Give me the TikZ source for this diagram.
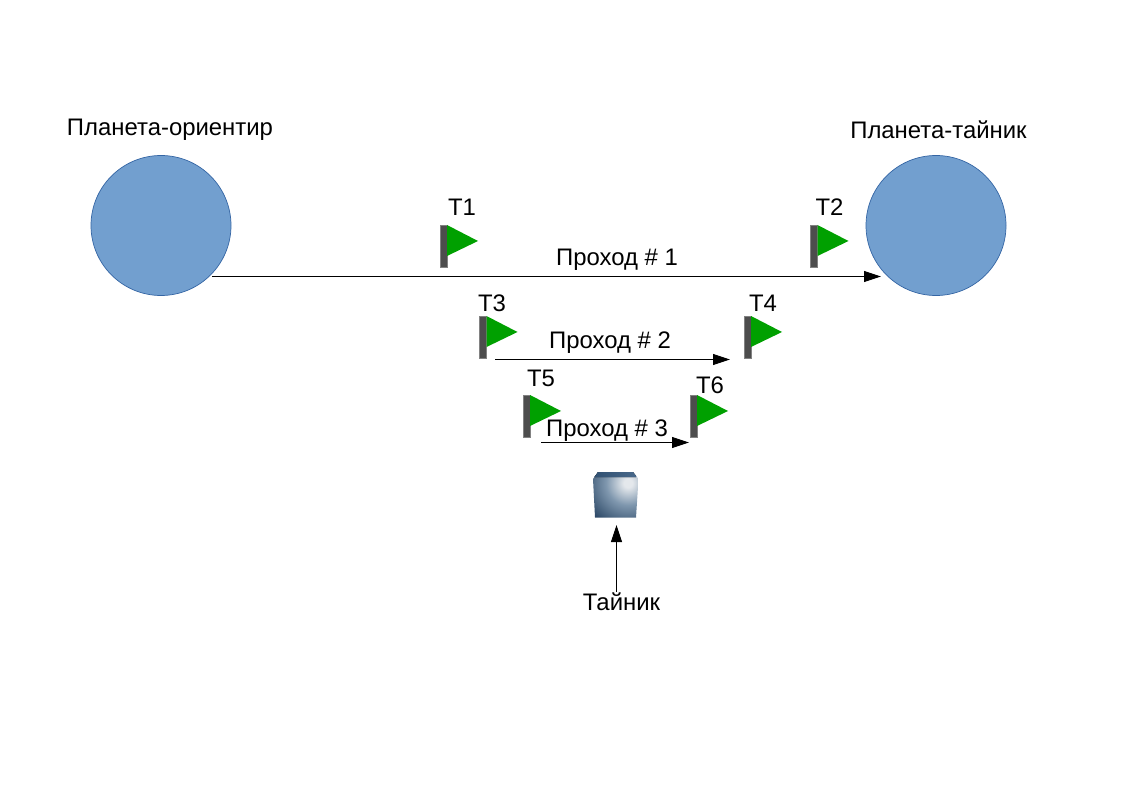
\documentclass[tikz,border=0pt]{standalone}
\usepackage{fontspec}
\setmainfont{Liberation Sans}
\usetikzlibrary{arrows.meta}
\definecolor{planetfill}{HTML}{729FCF}
\definecolor{planetline}{HTML}{3465A4}
\definecolor{flaggreen}{HTML}{00A000}
\definecolor{polegrey}{HTML}{4D4D4D}
\definecolor{cubeA}{HTML}{E4E8EC}
\definecolor{cubeB}{HTML}{7F97AE}
\definecolor{cubeC}{HTML}{2E4A68}
\definecolor{cubeTop}{HTML}{4A6A8C}
\definecolor{cubeTopD}{HTML}{2F4F70}
\pgfdeclareradialshading{cubeglow}{\pgfpointorigin}{
  color(0bp)=(cubeA); color(2bp)=(cubeA); color(10bp)=(cubeB); color(21bp)=(cubeC); color(50bp)=(cubeC)}
\tikzset{
  x=1pt,y=-1pt,
  planet/.style={circle,draw=planetline,fill=planetfill,line width=0.7pt,minimum size=140pt,inner sep=0pt},
  lbl/.style={inner sep=0pt,font=\fontsize{23.9}{28}\selectfont,text=black,anchor=center},
  conn/.style={line width=0.9pt,draw=black,-{Triangle[length=17pt,width=11pt]}},
  pole/.style={fill=polegrey,draw=polegrey!70!white,line width=0.4pt},
  pennant/.style={fill=flaggreen,draw=none},
  flag/.pic={
    \path[pole] (-3.5,0) rectangle (3.5,42);
    \path[pennant] (3.5,0) -- (34.5,16) -- (3.5,31) -- cycle;
  }
}
\begin{document}
\begin{tikzpicture}
\useasboundingbox (0,0) rectangle (1123,794);
\node[planet] (orient) at (161,225.5) {};
\node[planet] (cache) at (936,225.5) {};
\node[lbl] (lorient) at (170,130) {Планета-ориентир};
\node[lbl] (lcache) at (938.5,130) {Планета-тайник};

\pic at (443.5,225) {flag};
\pic at (814,225) {flag};
\pic at (483,316) {flag};
\pic at (747.5,316) {flag};
\pic at (526.5,395) {flag};
\pic at (693.5,395) {flag};

\node[lbl] (t1) at (462,207) {T1};
\node[lbl] (t2) at (829.5,207) {T2};
\node[lbl] (t3) at (492,303) {T3};
\node[lbl] (t4) at (763,303) {T4};
\node[lbl] (t5) at (541,378) {T5};
\node[lbl] (t6) at (710,385.5) {T6};

\node[lbl] (p1) at (617,259.5) {Проход \# 1};
\node[lbl] (p2) at (610,342.5) {Проход \# 2};
\node[lbl] (p3) at (607,430.5) {Проход \# 3};

\coordinate (a1) at (212,276.5);
\coordinate (b1) at (881,276.5);
\coordinate (a2) at (495,359.5);
\coordinate (b2) at (730,359.5);
\coordinate (a3) at (541,442.5);
\coordinate (b3) at (689,442.5);
\draw[conn] (a1) -- (b1);
\draw[conn] (a2) -- (b2);
\draw[conn] (a3) -- (b3);

% cube
\begin{scope}
  \clip (598,472) -- (633,472) -- (638.5,479) -- (636,517.5) -- (595,517.5) -- (593,479) -- cycle;
  \shade[shading=cubeglow] (573,428) rectangle (683,538);
  \fill[left color=cubeTopD,right color=cubeTop] (590,470) -- (640,470) -- (636,477) -- (593,477) -- cycle;
\end{scope}

\node[lbl] (ltain) at (621.5,601.5) {Тайник};
\coordinate (cbox) at (616.5,525);
\coordinate (ctail) at (616.5,592);
\draw[conn] (ctail) -- (cbox);
\end{tikzpicture}
\end{document}
